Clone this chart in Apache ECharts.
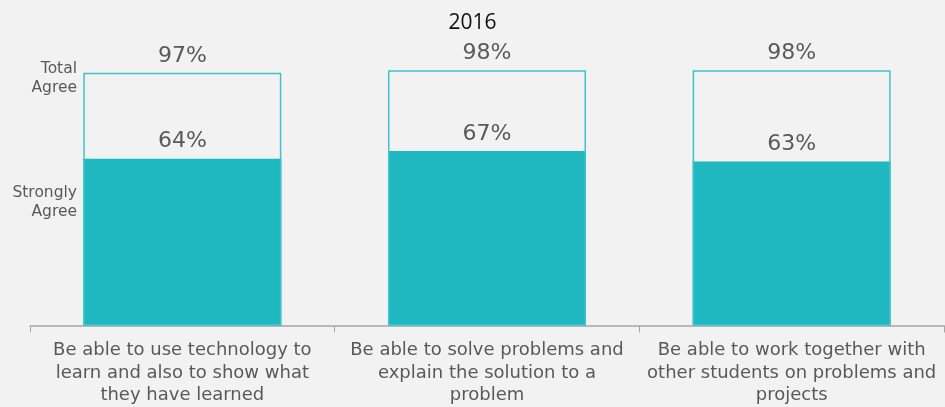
<!DOCTYPE html>
<html><head><meta charset="utf-8">
<script src="https://cdn.jsdelivr.net/npm/echarts@6/dist/echarts.min.js"></script>
<style>html,body{margin:0;padding:0;background:#f2f2f2;}#c{width:945px;height:407px;}</style>
</head><body><div id="c"></div>
<script>
const categories = [
  "Be able to use technology to\nlearn and also to show what\nthey have learned",
  "Be able to solve problems and\nexplain the solution to a\nproblem",
  "Be able to work together with\nother students on problems and\nprojects"
];
const totalAgree = [97, 98, 98];
const stronglyAgree = [64, 67, 63];
const title = "2016";
const legendLabels = ["Total\nAgree", "Strongly\nAgree"];

const chart = echarts.init(document.getElementById('c'), null, {renderer: 'canvas'});
const teal = '#1fb8c1';
const txt = '#595959';
const font = '"DejaVu Sans", sans-serif';
chart.setOption({
  backgroundColor: '#f2f2f2',
  animation: false,
  title: {text: title, left: 'center', top: 8, textStyle: {fontSize: 21, fontWeight: 'normal', color: '#111', fontFamily: '"Open Sans", sans-serif'}},
  grid: {left: 30, right: 1, top: 65, bottom: 81},
  xAxis: {
    type: 'category', data: categories,
    axisLine: {lineStyle: {color: '#a6a6a6', width: 1.5}},
    axisTick: {show: true, length: 7, lineStyle: {color: '#a6a6a6'}},
    axisLabel: {color: txt, fontSize: 18, lineHeight: 22.5, margin: 14, fontFamily: font, interval: 0}
  },
  yAxis: {type: 'value', min: 0, max: 100, show: false},
  graphic: [
    {type: 'text', right: 868, top: 59, style: {text: legendLabels[0], fill: txt, font: '15.5px ' + font, textAlign: 'right', lineHeight: 19}},
    {type: 'text', right: 868, top: 183, style: {text: legendLabels[1], fill: txt, font: '15.5px ' + font, textAlign: 'right', lineHeight: 19}}
  ],
  series: [
    {type: 'bar', name: 'Total Agree', data: totalAgree, barWidth: '65%', barGap: '-100%', z: 3,
     itemStyle: {color: 'rgba(0,0,0,0)', borderColor: '#3fc3cb', borderWidth: 1.5},
     label: {show: true, position: 'top', distance: 6, formatter: '{c}%', color: txt, fontSize: 22, fontFamily: font}},
    {type: 'bar', name: 'Strongly Agree', data: stronglyAgree, barWidth: '65%', z: 2,
     itemStyle: {color: teal},
     label: {show: true, position: 'top', distance: 6, formatter: '{c}%', color: txt, fontSize: 22, fontFamily: font}}
  ]
});
</script></body></html>
